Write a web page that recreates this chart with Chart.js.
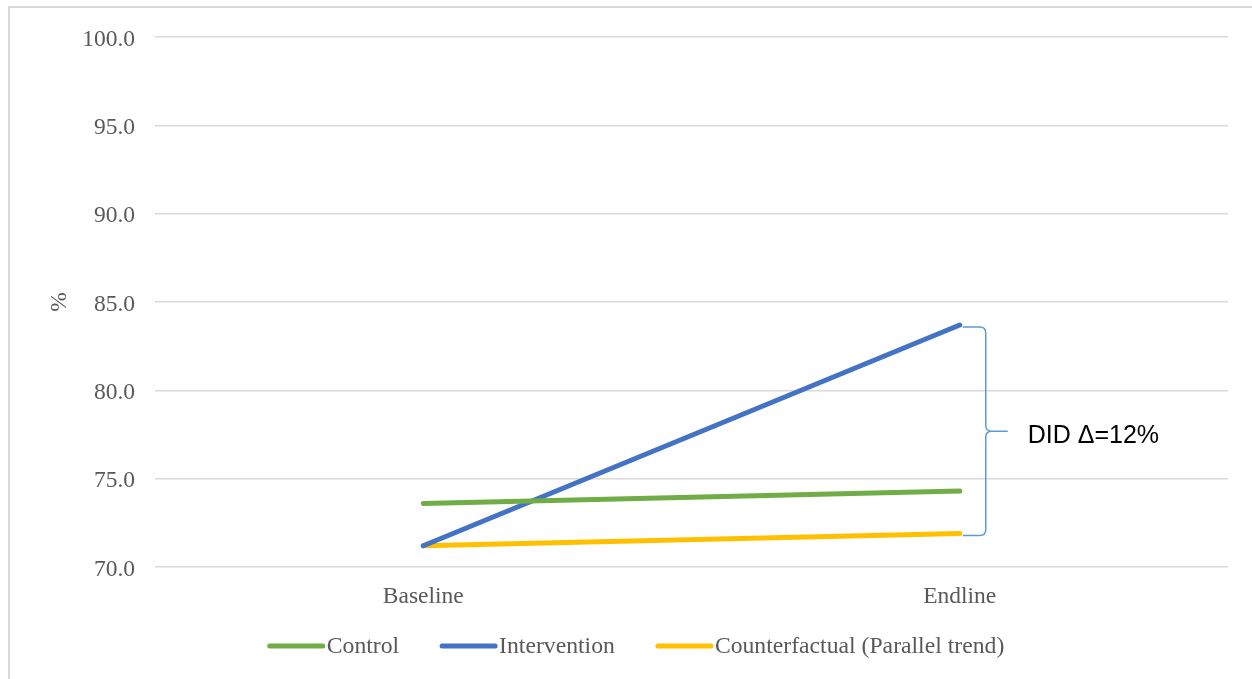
<!DOCTYPE html>
<html>
<head>
<meta charset="utf-8">
<title>Difference-in-differences</title>
<script src="https://cdn.jsdelivr.net/npm/chart.js@4.4.1/dist/chart.umd.min.js"></script>
<style>
  html, body { margin: 0; padding: 0; background: #ffffff; }
  #wrap { position: relative; width: 1252px; height: 679px; overflow: hidden; }
  #frame { position: absolute; left: 8px; top: 6px; right: -10px; bottom: -10px;
           border-top: 2px solid #d9d9d9; border-left: 2px solid #d9d9d9; }
  canvas { position: absolute; left: 0; top: 0; }
</style>
</head>
<body>
<div id="wrap">
  <div id="frame"></div>
  <canvas id="chart" width="1252" height="679"></canvas>
</div>
<script>
// Survey rounds
const categories = ['Baseline', 'Endline'];

// Share of respondents (%) per group and round
const control        = [73.6, 74.3];
const intervention   = [71.2, 83.7];
const counterfactual = [71.2, 71.9];

const seriesNames  = ['Control', 'Intervention', 'Counterfactual (Parallel trend)'];
const seriesColors = ['#70AD47', '#4472C4', '#FFC000'];

// Value axis
const yMin = 70, yMax = 100, yStep = 5;

// Difference-in-differences label
const didLabel = 'DID \u0394=12%';

const serif = "'Liberation Serif', 'Times New Roman', serif";
const textGrey = '#595959';

// Curly brace spanning the gap between intervention and counterfactual at endline
const bracePlugin = {
  id: 'didBrace',
  afterDatasetsDraw(chart) {
    const { ctx, scales: { x, y } } = chart;
    const xe = x.getPixelForValue(1);
    const yTop = y.getPixelForValue(intervention[1]) + 2;
    const yBot = y.getPixelForValue(counterfactual[1]) + 2;
    const yMid = (yTop + yBot) / 2;
    const x0 = xe + 3, xv = xe + 26, xt = xe + 48, r = 6;
    ctx.save();
    ctx.strokeStyle = '#5B9BD5';
    ctx.lineWidth = 1.5;
    ctx.beginPath();
    ctx.moveTo(x0, yTop);
    ctx.lineTo(xv - r, yTop);
    ctx.quadraticCurveTo(xv, yTop, xv, yTop + r);
    ctx.lineTo(xv, yMid - r);
    ctx.quadraticCurveTo(xv, yMid, xv + r, yMid);
    ctx.lineTo(xt, yMid);
    ctx.moveTo(xv + r, yMid);
    ctx.quadraticCurveTo(xv, yMid, xv, yMid + r);
    ctx.lineTo(xv, yBot - r);
    ctx.quadraticCurveTo(xv, yBot, xv - r, yBot);
    ctx.lineTo(x0, yBot);
    ctx.stroke();
    ctx.fillStyle = '#000000';
    ctx.font = "25px 'Liberation Sans', Arial, sans-serif";
    ctx.textAlign = 'left';
    ctx.textBaseline = 'middle';
    ctx.fillText(didLabel, xt + 20, yMid + 5);
    ctx.restore();
  }
};

// Legend with line swatches placed right against their labels
const legendPlugin = {
  id: 'lineLegend',
  afterDraw(chart) {
    const { ctx } = chart;
    const sw = 57, gap = 2, itemGap = 41, cy = 646;
    ctx.save();
    ctx.font = '23.7px ' + serif;
    ctx.textBaseline = 'middle';
    ctx.textAlign = 'left';
    const widths = chart.data.datasets.map(d => ctx.measureText(d.label).width);
    let total = widths.reduce((a, w) => a + sw + gap + w, 0) + itemGap * (widths.length - 1);
    let xpos = (chart.width + 20) / 2 - total / 2;
    chart.data.datasets.forEach((d, i) => {
      ctx.strokeStyle = d.borderColor;
      ctx.lineWidth = 5;
      ctx.lineCap = 'round';
      ctx.beginPath();
      ctx.moveTo(xpos + 2, cy);
      ctx.lineTo(xpos + sw - 2, cy);
      ctx.stroke();
      ctx.fillStyle = textGrey;
      ctx.fillText(d.label, xpos + sw + gap, cy + 1);
      xpos += sw + gap + widths[i] + itemGap;
    });
    ctx.restore();
  }
};

const values = [control, intervention, counterfactual];
const datasets = values.map((v, i) => ({
  label: seriesNames[i],
  data: v,
  borderColor: seriesColors[i],
  backgroundColor: seriesColors[i],
  borderWidth: 5,
  borderCapStyle: 'round',
  pointRadius: 0,
  pointHoverRadius: 0,
  tension: 0,
  fill: false
}));

new Chart(document.getElementById('chart'), {
  type: 'line',
  data: { labels: categories, datasets },
  options: {
    responsive: false,
    animation: false,
    layout: { padding: { top: 37, right: 24, bottom: 0, left: 0 } },
    plugins: {
      legend: { display: false },
      tooltip: { enabled: false }
    },
    scales: {
      x: {
        offset: true,
        grid: { display: false, drawTicks: false },
        border: { display: false },
        ticks: { color: textGrey, font: { family: serif, size: 23.5 }, padding: 16 },
        afterFit(scale) { scale.height = 679 - 567; }
      },
      y: {
        min: yMin,
        max: yMax,
        grid: { color: '#d9d9d9', lineWidth: 1.5, drawTicks: false },
        border: { display: false },
        ticks: {
          stepSize: yStep,
          color: textGrey,
          font: { family: serif, size: 23.5 },
          padding: 20,
          labelOffset: 2.5,
          callback: v => Number(v).toFixed(1)
        },
        title: {
          display: true,
          text: '%',
          color: textGrey,
          font: { family: serif, size: 23.5 },
          padding: { top: 46, bottom: 0 }
        },
        afterFit(scale) { scale.width = 155; }
      }
    }
  },
  plugins: [bracePlugin, legendPlugin]
});
</script>
</body>
</html>
